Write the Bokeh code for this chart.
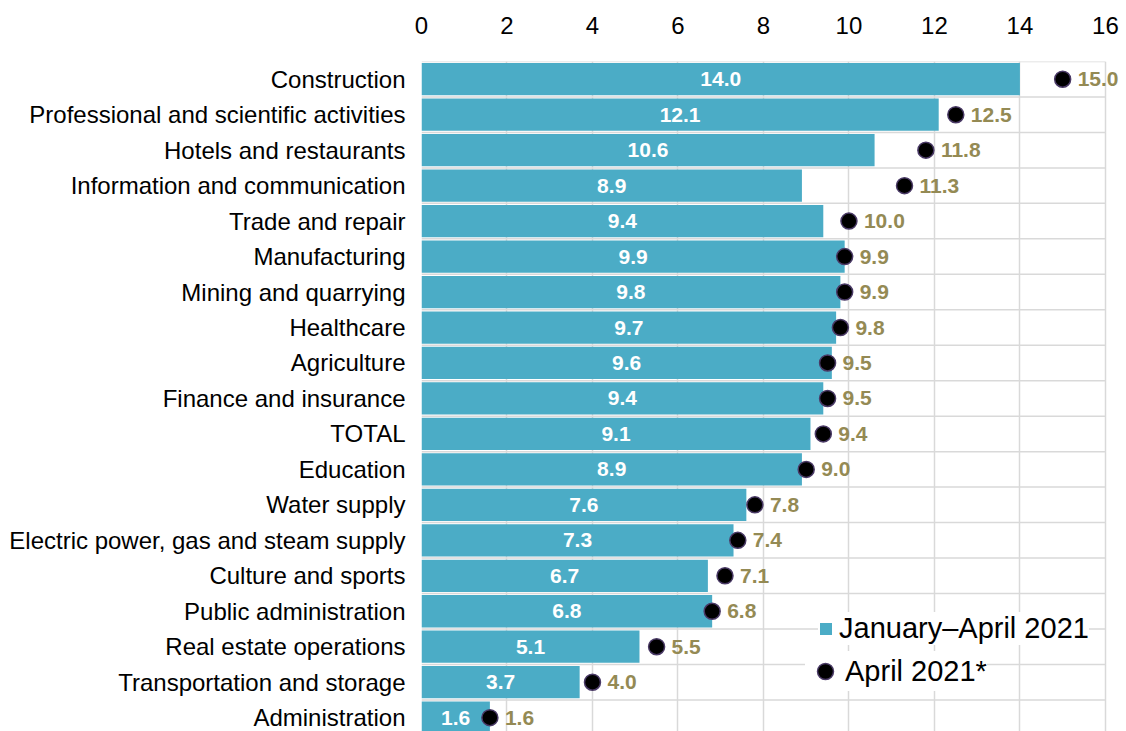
from bokeh.plotting import figure
from bokeh.models import Range1d, FixedTicker, Legend, LegendItem, ColumnDataSource
from bokeh.core.properties import value
from bokeh.embed import file_html
from bokeh.resources import INLINE

categories = [
    "Construction",
    "Professional and scientific activities",
    "Hotels and restaurants",
    "Information and communication",
    "Trade and repair",
    "Manufacturing",
    "Mining and quarrying",
    "Healthcare",
    "Agriculture",
    "Finance and insurance",
    "TOTAL",
    "Education",
    "Water supply",
    "Electric power, gas and steam supply",
    "Culture and sports",
    "Public administration",
    "Real estate operations",
    "Transportation and storage",
    "Administration",
]
jan_apr_2021 = [14.0, 12.1, 10.6, 8.9, 9.4, 9.9, 9.8, 9.7, 9.6, 9.4, 9.1, 8.9, 7.6, 7.3, 6.7, 6.8, 5.1, 3.7, 1.6]
april_2021 = [15.0, 12.5, 11.8, 11.3, 10.0, 9.9, 9.9, 9.8, 9.5, 9.5, 9.4, 9.0, 7.8, 7.4, 7.1, 6.8, 5.5, 4.0, 1.6]
x_ticks = [0, 2, 4, 6, 8, 10, 12, 14, 16]
series_names = ["January\u2013April 2021", "April 2021*"]

BAR = "#4BACC6"
DOTLBL = "#948A54"
GRID = "#D9D9D9"
FONT = "Liberation Sans"

n = len(categories)
idx = list(range(n))
src = ColumnDataSource(dict(
    y=idx,
    cat=categories,
    jan=jan_apr_2021,
    apr=april_2021,
    jan_mid=[v / 2 for v in jan_apr_2021],
    jan_lbl=[f"{v:.1f}" for v in jan_apr_2021],
    apr_lbl=[f"{v:.1f}" for v in april_2021],
))

p = figure(width=1122, height=731, output_backend="svg", toolbar_location=None,
           x_range=Range1d(0, 16.40), y_range=Range1d(18.39, -0.5),
           x_axis_location="above", min_border_left=421, min_border_top=61,
           min_border_right=0, min_border_bottom=0)
p.outline_line_color = None
p.background_fill_color = "white"

# grid
p.xgrid.ticker = FixedTicker(ticks=x_ticks)
p.xgrid.grid_line_color = GRID
p.xgrid.grid_line_width = 1.5
p.ygrid.grid_line_color = None
bounds = [i - 0.5 for i in range(n)]
p.segment(x0=[x_ticks[0]] * n, x1=[x_ticks[-1]] * n, y0=bounds, y1=bounds,
          line_color=GRID, line_width=1.5)

bars = p.hbar(y="y", right="jan", left=0, height=0.91, source=src,
              fill_color=BAR, line_color=None)
dots = p.scatter(x="apr", y="y", size=16, source=src, fill_color="black",
                 line_color="#4A3A66", line_width=1.5)

p.text(x="jan_mid", y="y", text="jan_lbl", source=src, text_color="white",
       text_font=value(FONT), text_font_style="bold", text_font_size="21px",
       text_align="center", text_baseline="middle")
p.text(x="apr", y="y", text="apr_lbl", source=src, text_color=DOTLBL,
       text_font=value(FONT), text_font_style="bold", text_font_size="21px",
       text_align="left", text_baseline="middle", x_offset=15)

# axes
xa = p.xaxis[0]
xa.ticker = FixedTicker(ticks=x_ticks)
xa.axis_line_color = None
xa.major_tick_line_color = None
xa.minor_tick_line_color = None
xa.major_label_text_font = FONT
xa.major_label_text_font_size = "24px"
xa.major_label_text_color = "black"
xa.major_label_standoff = 22

ya = p.yaxis[0]
ya.ticker = FixedTicker(ticks=idx)
ya.major_label_overrides = {i: c for i, c in enumerate(categories)}
ya.axis_line_color = None
ya.major_tick_line_color = None
ya.minor_tick_line_color = None
ya.major_label_text_font = FONT
ya.major_label_text_font_size = "24px"
ya.major_label_text_color = "black"
ya.major_label_standoff = 10


def style_legend(lg):
    lg.label_text_font = FONT
    lg.label_text_font_size = "29px"
    lg.label_text_color = "black"
    lg.margin = 0
    lg.border_line_color = None
    lg.background_fill_color = "white"
    lg.background_fill_alpha = 1.0


legend_a = Legend(items=[LegendItem(label=series_names[0], renderers=[bars])],
                  location=(397, 86))
style_legend(legend_a)
legend_a.glyph_width = 15
legend_a.glyph_height = 15
legend_a.label_standoff = 6
legend_a.padding = 6

legend_b = Legend(items=[LegendItem(label=series_names[1], renderers=[dots])],
                  location=(384, 40))
style_legend(legend_b)
legend_b.glyph_width = 40
legend_b.glyph_height = 40
legend_b.label_standoff = -6
legend_b.padding = 3

p.add_layout(legend_a, "center")
p.add_layout(legend_b, "center")

open("out.html", "w").write(file_html(p, INLINE))
